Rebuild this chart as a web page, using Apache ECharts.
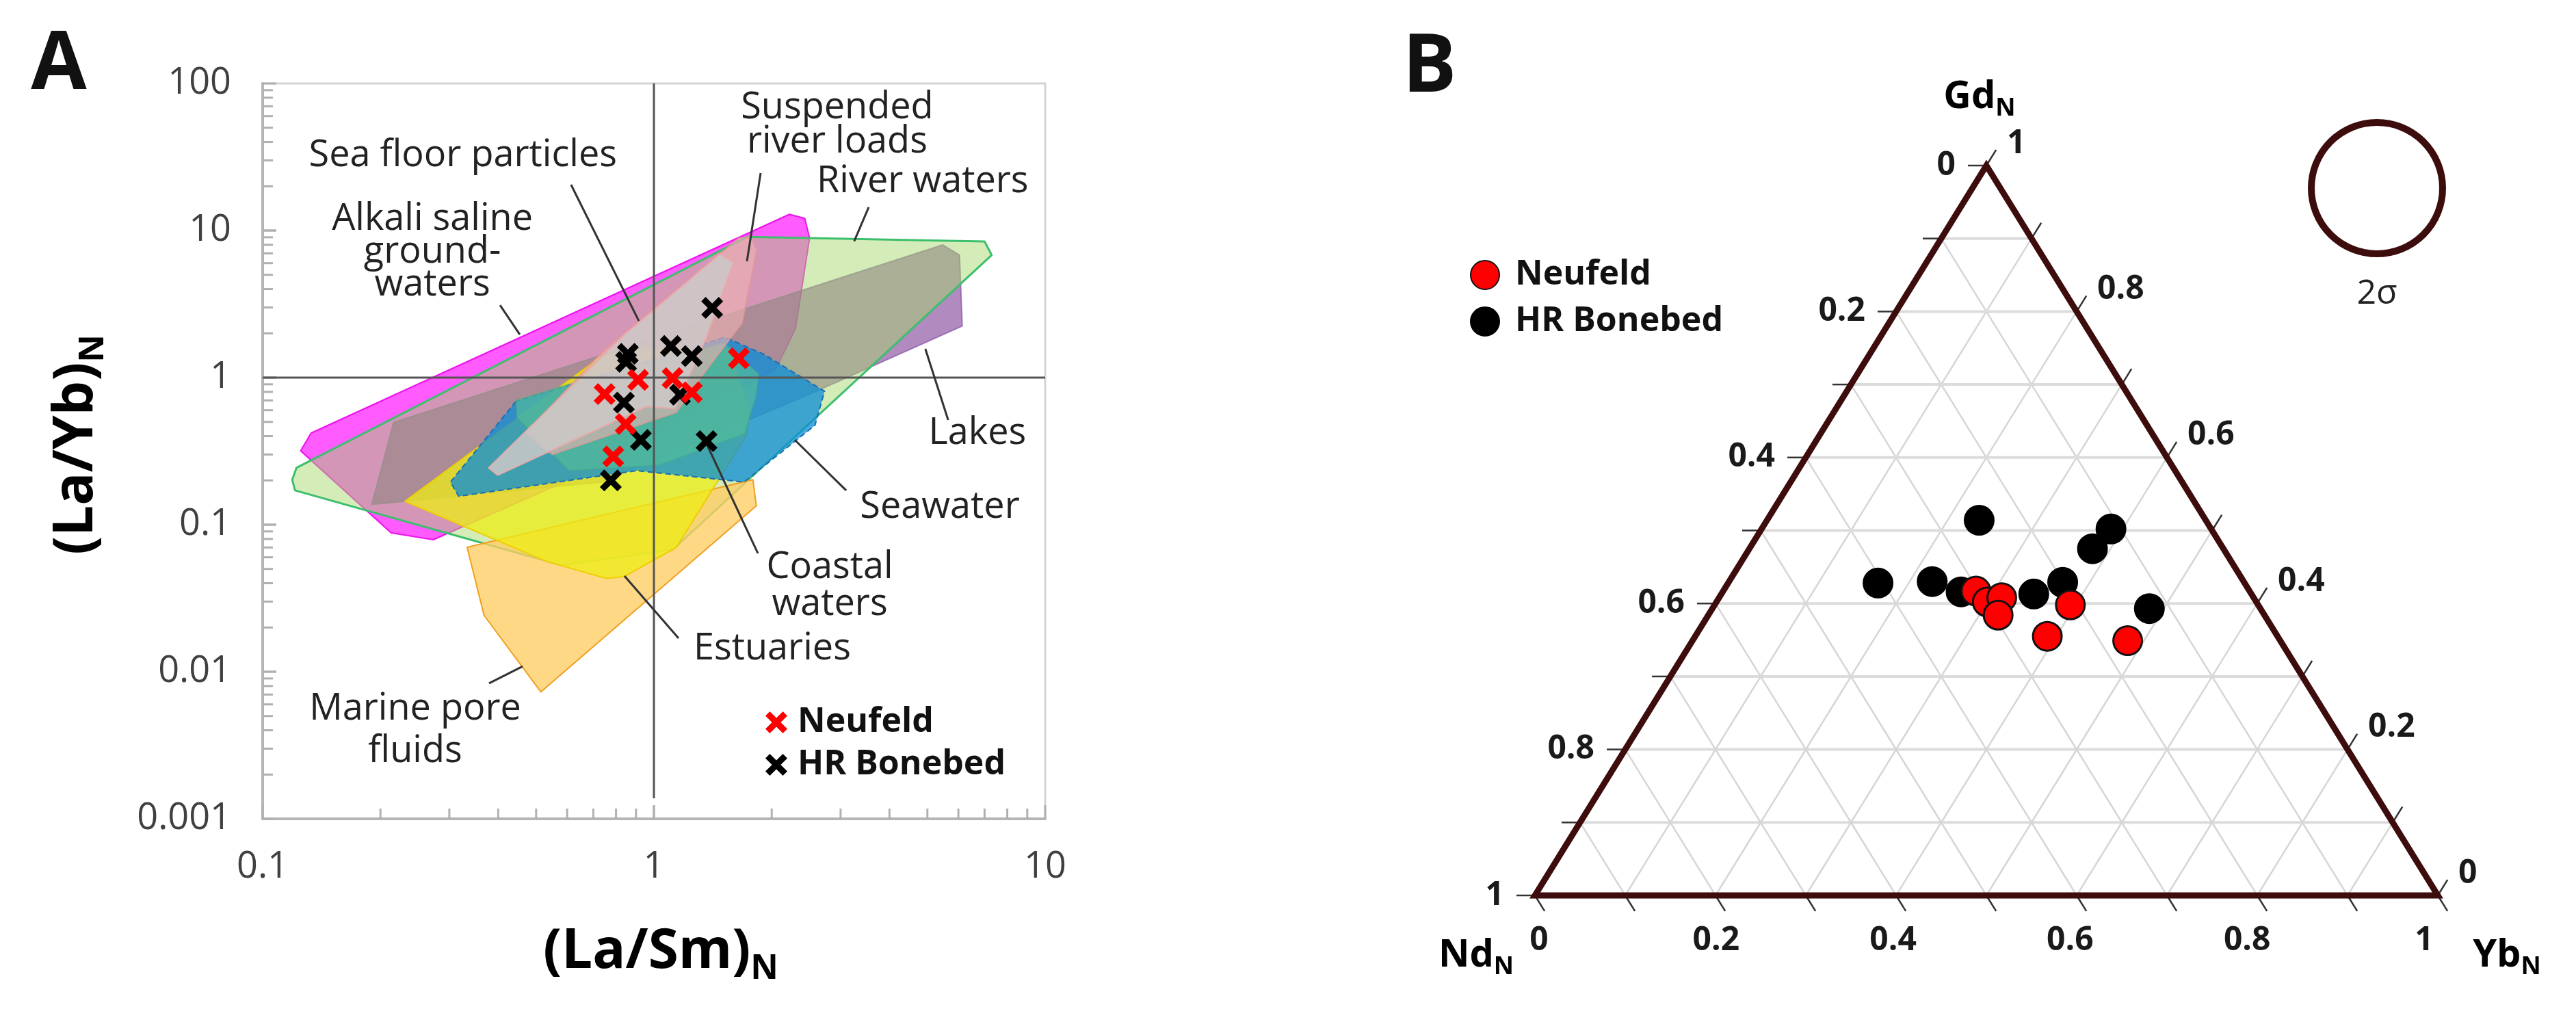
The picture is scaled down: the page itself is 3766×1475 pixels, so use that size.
<!DOCTYPE html>
<html><head><meta charset="utf-8">
<script src="https://cdn.jsdelivr.net/npm/echarts@6/dist/echarts.min.js"></script>
<style>html,body{margin:0;padding:0;background:#fff}#c{width:3766px;height:1475px}</style>
</head><body><div id="c"></div>
<script>
// ================= Panel A data =================
const xTickLabels = ['0.1', '1', '10'];
const yTickLabels = ['0.001', '0.01', '0.1', '1', '10', '100'];
// (La/Sm)N, (La/Yb)N
const neufeldA = [[0.748,0.773],[0.911,0.965],[1.116,0.991],[1.25,0.794],[1.648,1.352],[0.847,0.483],[0.787,0.291]];
const bonebedA = [[1.409,2.98],[1.105,1.64],[1.25,1.40],[0.858,1.45],[0.849,1.28],[0.838,0.676],[0.926,0.377],[0.776,0.200],[1.363,0.370],[1.166,0.766]];
// Field outlines (La/Sm)N, (La/Yb)N
const alkaliSaline = [[0.125,0.318],[0.133,0.42],[2.22,12.9],[2.43,12.1],[2.5,8.9],[2.3,2.15],[2.05,1.15],[0.74,0.255],[0.273,0.079],[0.213,0.088]];
const riverWaters = [[0.119,0.202],[0.122,0.2435],[1.73,9.05],[7.0,8.42],[7.3,6.81],[1.12,0.068],[0.58,0.053],[0.121,0.171]];
const lakes = [[0.19,0.137],[0.216,0.496],[5.47,7.99],[6.04,6.81],[6.14,2.24],[2.58,0.80],[0.74,0.195]];
const marinePore = [[0.333,0.0703],[0.368,0.0242],[0.514,0.0073],[1.827,0.1344],[1.791,0.2022]];
const estuaries = [[0.231,0.1443],[0.746,1.439],[1.0,1.6],[1.55,1.55],[1.75,0.6],[1.732,0.415],[1.139,0.0697],[0.838,0.0443],[0.756,0.0431],[0.531,0.0563]];
const coastalWaters = [[0.444,0.701],[0.447,0.537],[0.607,0.233],[1.034,0.2547],[1.703,0.415],[1.821,0.739],[1.851,1.055],[1.516,1.719],[0.741,1.055]];
const seawater = [[0.444,0.689],[0.302,0.195],[0.317,0.156],[0.905,0.233],[1.70,0.195],[2.58,0.474],[2.73,0.808],[1.91,1.44],[1.52,1.88]];
const suspendedLoads = [[0.47,0.42],[0.74,1.5],[1.65,8.9],[1.77,9.1],[1.83,7.4],[1.68,2.35],[1.37,1.15],[1.14,0.58],[0.55,0.3]];
const seaFloor = [[0.378,0.2435],[0.399,0.217],[0.958,0.636],[1.131,0.614],[1.358,1.845],[1.599,6.07],[1.476,6.93],[0.908,2.325],[0.847,2.0]];

// ================= Panel B data =================
// [NdN, GdN, YbN]
const neufeldB = [[0.303,0.417,0.280],[0.298,0.402,0.300],[0.279,0.408,0.313],[0.295,0.384,0.321],[0.208,0.398,0.394],[0.255,0.355,0.390],[0.169,0.349,0.482]];
const bonebedB = [[0.251,0.514,0.235],[0.111,0.502,0.387],[0.145,0.475,0.380],[0.406,0.428,0.166],[0.345,0.430,0.225],[0.320,0.416,0.264],[0.241,0.413,0.346],[0.201,0.429,0.370],[0.123,0.393,0.484]];
const ternaryTickLabels = ['0', '0.2', '0.4', '0.6', '0.8', '1'];

// ================= layout / style =================
const FONT = '"Open Sans", "Liberation Sans", sans-serif';
const X_PATH = 'path://M0,2L2,0L5,3L8,0L10,2L7,5L10,8L8,10L5,7L2,10L0,8L3,5Z';
const BROWN = '#3d0c0c';

const regions = [
  {pts: alkaliSaline, fill: 'rgba(255,50,255,0.80)', stroke: 'rgba(235,0,235,0.9)', w: 2},
  {pts: lakes, fill: 'rgba(125,60,150,0.60)', stroke: 'rgba(120,70,160,0.6)', w: 2},
  {pts: riverWaters, fill: 'rgba(165,215,105,0.48)', stroke: '#3cbf6c', w: 3},
  {pts: marinePore, fill: 'rgba(255,205,100,0.78)', stroke: '#f0a020', w: 2},
  {pts: estuaries, fill: 'rgba(238,238,20,0.75)', stroke: 'rgba(240,205,0,1)', w: 2},
  {pts: seawater, fill: 'rgba(10,140,215,0.75)', stroke: '#1a6fb0', w: 2, dash: [8, 5]},
  {pts: coastalWaters, fill: 'rgba(85,192,150,0.62)', stroke: 'rgba(70,170,140,0.5)', w: 2},
  {pts: suspendedLoads, fill: 'rgba(238,178,178,0.62)', stroke: 'rgba(230,150,150,0.8)', w: 2},
  {pts: seaFloor, fill: 'rgba(205,200,200,0.85)', stroke: 'rgba(232,170,170,1)', w: 2}
];

const annotations = [
  {text: 'Sea floor particles', at: [0.325, 32.1], line: [[0.614, 20.5], [0.915, 2.43]]},
  {text: 'Suspended\nriver loads', at: [2.94, 52.0], lh: 50, line: [[1.874, 24.6], [1.729, 6.18]]},
  {text: 'River waters', at: [4.86, 21.5], line: [[3.54, 14.4], [3.25, 8.46]]},
  {text: 'Alkali saline\nground-\nwaters', at: [0.2715, 7.10], lh: 48, line: [[0.4043, 3.11], [0.4543, 1.96]]},
  {text: 'Lakes', at: [6.71, 0.416], line: [[5.65, 0.515], [4.94, 1.568]]},
  {text: 'Seawater', at: [5.38, 0.1307], line: [[3.10, 0.171], [2.29, 0.3774]]},
  {text: 'Coastal\nwaters', at: [2.814, 0.0385], lh: 54, line: [[1.844, 0.0638], [1.369, 0.3464]]},
  {text: 'Estuaries', at: [2.006, 0.01424], line: [[1.156, 0.0169], [0.841, 0.0448]]},
  {text: 'Marine pore\nfluids', at: [0.2454, 0.00398], lh: 62, line: [[0.379, 0.00834], [0.4617, 0.01089]]}
];

const xMin = parseFloat(xTickLabels[0]), xMax = parseFloat(xTickLabels[xTickLabels.length - 1]);
const yMin = parseFloat(yTickLabels[0]), yMax = parseFloat(yTickLabels[yTickLabels.length - 1]);

function tern(p) { // [Nd, Gd, Yb] -> cartesian in unit triangle
  const s = p[0] + p[1] + p[2];
  const gd = p[1] / s, yb = p[2] / s;
  return [yb + gd / 2, gd];
}

const chart = echarts.init(document.getElementById('c'), null, {renderer: 'canvas', width: 3766, height: 1475});

const option = {
  animation: false,
  backgroundColor: '#ffffff',
  grid: [
    {left: 384, top: 122, width: 1144, height: 1075, show: true, borderColor: '#d4d4d4', borderWidth: 3, containLabel: false},
    {left: 2244, top: 242, width: 1320, height: 1067, show: false}
  ],
  xAxis: [
    {type: 'log', logBase: 10, min: xMin, max: xMax, splitNumber: 2, gridIndex: 0,
     axisLine: {show: true, onZero: false, lineStyle: {color: '#b5b5b5', width: 4}},
     axisTick: {show: false}, splitLine: {show: false},
     axisLabel: {fontSize: 54, color: '#404040', fontFamily: FONT, margin: 44,
       formatter: v => xTickLabels[Math.round(Math.log10(v / xMin))] || ''}},
    {type: 'value', min: 0, max: 1, gridIndex: 1, show: false}
  ],
  yAxis: [
    {type: 'log', logBase: 10, min: yMin, max: yMax, splitNumber: 5, gridIndex: 0,
     axisLine: {show: true, onZero: false, lineStyle: {color: '#b5b5b5', width: 4}},
     axisTick: {show: false}, splitLine: {show: false},
     axisLabel: {fontSize: 54, color: '#404040', fontFamily: FONT, margin: 46,
       formatter: v => yTickLabels[Math.round(Math.log10(v / yMin))] || ''}},
    {type: 'value', min: 0, max: 1, gridIndex: 1, show: false}
  ],
  legend: [
    {data: [{name: 'Neufeld', icon: X_PATH}, {name: 'HR Bonebed', icon: X_PATH}],
     orient: 'vertical', left: 1114, top: 1026, itemWidth: 32, itemHeight: 32, itemGap: 12,
     selectedMode: false,
     textStyle: {fontSize: 50, fontWeight: 'bold', fontFamily: FONT, color: '#111', padding: [0, 0, 0, 10]}},
    {data: [{name: 'Neufeld ', icon: 'circle'}, {name: 'HR Bonebed ', icon: 'circle'}],
     orient: 'vertical', left: 2144, top: 372, itemWidth: 42, itemHeight: 42, itemGap: 18,
     selectedMode: false,
     textStyle: {fontSize: 50, fontWeight: 'bold', fontFamily: FONT, color: '#111', padding: [0, 0, 0, 18]}}
  ],
  graphic: [
    {type: 'text', x: 86, y: 96, style: {text: 'A', font: 'bold 118px ' + FONT, fill: '#111', align: 'center', verticalAlign: 'middle'}},
    {type: 'text', x: 2090, y: 100, style: {text: 'B', font: 'bold 118px ' + FONT, fill: '#111', align: 'center', verticalAlign: 'middle'}},
    {type: 'text', x: 966, y: 1392, style: {text: '{a|(La/Sm)}{s|N}', align: 'center', verticalAlign: 'middle',
      rich: {a: {fontSize: 80, fontWeight: 'bold', fontFamily: FONT, color: '#111', lineHeight: 100},
             s: {fontSize: 50, fontWeight: 'bold', fontFamily: FONT, color: '#111', verticalAlign: 'bottom', lineHeight: 80}}}},
    {type: 'text', x: 112, y: 650, rotation: Math.PI / 2, style: {text: '{a|(La/Yb)}{s|N}', align: 'center', verticalAlign: 'middle',
      rich: {a: {fontSize: 80, fontWeight: 'bold', fontFamily: FONT, color: '#111', lineHeight: 100},
             s: {fontSize: 50, fontWeight: 'bold', fontFamily: FONT, color: '#111', verticalAlign: 'bottom', lineHeight: 80}}}},
    {type: 'circle', shape: {cx: 3475, cy: 275, r: 96}, style: {fill: 'none', stroke: BROWN, lineWidth: 10}},
    {type: 'text', x: 3475, y: 430, style: {text: '2σ', font: '50px ' + FONT, fill: '#222', align: 'center', verticalAlign: 'middle'}}
  ],
  series: [
    // ---- Panel A fields ----
    {type: 'custom', name: 'fields', xAxisIndex: 0, yAxisIndex: 0, silent: true, clip: true, z: 1,
     data: regions.map((r, i) => [r.pts[0][0], r.pts[0][1], i]),
     renderItem: function (params, api) {
       const r = regions[api.value(2)];
       const pts = r.pts.map(p => api.coord(p));
       return {type: 'polygon', shape: {points: pts},
         style: {fill: r.fill, stroke: r.stroke, lineWidth: r.w, lineDash: r.dash || null, lineJoin: 'round'}};
     }},
    // ---- Panel A frame: minor ticks + reference lines ----
    {type: 'custom', name: 'frameA', xAxisIndex: 0, yAxisIndex: 0, silent: true, z: 3,
     data: [[1, 1]],
     renderItem: function (params, api) {
       const ch = [];
       const tickStyle = {stroke: '#b0b0b0', lineWidth: 3};
       for (let d = xMin; d < xMax * 0.999; d *= 10) {
         for (let k = 1; k <= 10; k++) {
           const v = d * k;
           if (v > xMax * 1.0001) continue;
           const p = api.coord([v, yMin]);
           const len = (k === 1 || k === 10) ? 20 : 15;
           ch.push({type: 'line', shape: {x1: p[0], y1: p[1], x2: p[0], y2: p[1] - len}, style: tickStyle});
         }
       }
       for (let d = yMin; d < yMax * 0.999; d *= 10) {
         for (let k = 1; k <= 10; k++) {
           const v = d * k;
           if (v > yMax * 1.0001) continue;
           const p = api.coord([xMin, v]);
           const len = (k === 1 || k === 10) ? 20 : 15;
           ch.push({type: 'line', shape: {x1: p[0], y1: p[1], x2: p[0] + len, y2: p[1]}, style: tickStyle});
         }
       }
       const a = api.coord([1, yMin]), b = api.coord([1, yMax]);
       ch.push({type: 'line', shape: {x1: a[0], y1: a[1] - 30, x2: b[0], y2: b[1]}, style: {stroke: '#555', lineWidth: 3}});
       const c = api.coord([xMin, 1]), e = api.coord([xMax, 1]);
       ch.push({type: 'line', shape: {x1: c[0], y1: c[1], x2: e[0], y2: e[1]}, style: {stroke: '#555', lineWidth: 3}});
       return {type: 'group', children: ch};
     }},
    // ---- Panel A annotations ----
    {type: 'custom', name: 'labelsA', xAxisIndex: 0, yAxisIndex: 0, silent: true, clip: false, z: 4,
     data: annotations.map((a, i) => [a.at[0], a.at[1], i]),
     renderItem: function (params, api) {
       const a = annotations[api.value(2)];
       const p = api.coord(a.at);
       const l1 = api.coord(a.line[0]), l2 = api.coord(a.line[1]);
       return {type: 'group', children: [
         {type: 'line', shape: {x1: l1[0], y1: l1[1], x2: l2[0], y2: l2[1]}, style: {stroke: '#333', lineWidth: 3}},
         {type: 'text', x: p[0], y: p[1], style: {text: a.text, fill: '#222', font: '54px ' + FONT,
           align: 'center', verticalAlign: 'middle', lineHeight: a.lh || 54}}
       ]};
     }},
    {type: 'scatter', name: 'HR Bonebed', xAxisIndex: 0, yAxisIndex: 0, z: 5, data: bonebedA,
     symbol: X_PATH, symbolSize: 32, itemStyle: {color: '#000', opacity: 1}},
    {type: 'scatter', name: 'Neufeld', xAxisIndex: 0, yAxisIndex: 0, z: 6, data: neufeldA,
     symbol: X_PATH, symbolSize: 32, itemStyle: {color: '#ff0000', opacity: 1}},

    // ---- Panel B ternary frame ----
    {type: 'custom', name: 'ternaryFrame', xAxisIndex: 1, yAxisIndex: 1, silent: true, clip: false, z: 2,
     data: [[0.5, 0.5]],
     renderItem: function (params, api) {
       const P = (nd, gd, yb) => api.coord(tern([nd, gd, yb]));
       const ch = [];
       const gridStyle = {stroke: '#d6d6d6', lineWidth: 2.5};
       for (let k = 1; k <= 9; k++) {
         const t = k / 10;
         let a = P(1 - t, t, 0), b = P(0, t, 1 - t);
         ch.push({type: 'line', shape: {x1: a[0], y1: a[1], x2: b[0], y2: b[1]}, style: {stroke: '#dcdcdc', lineWidth: 4}});
         a = P(1 - t, 0, t); b = P(0, 1 - t, t);
         ch.push({type: 'line', shape: {x1: a[0], y1: a[1], x2: b[0], y2: b[1]}, style: gridStyle});
         a = P(t, 0, 1 - t); b = P(t, 1 - t, 0);
         ch.push({type: 'line', shape: {x1: a[0], y1: a[1], x2: b[0], y2: b[1]}, style: gridStyle});
       }
       const T = P(0, 1, 0), BL = P(1, 0, 0), BR = P(0, 0, 1);
       const norm = v => { const l = Math.hypot(v[0], v[1]); return [v[0] / l, v[1] / l]; };
       const dUp = norm([T[0] - BL[0], T[1] - BL[1]]);
       const dDown = norm([BR[0] - T[0], BR[1] - T[1]]);
       const L = 27, tk = {stroke: '#333', lineWidth: 2.5};
       for (let k = 0; k <= 10; k++) {
         const t = k / 10;
         let p = P(t, 1 - t, 0);
         ch.push({type: 'line', shape: {x1: p[0] - L, y1: p[1], x2: p[0], y2: p[1]}, style: tk});
         p = P(0, t, 1 - t);
         ch.push({type: 'line', shape: {x1: p[0], y1: p[1], x2: p[0] + dUp[0] * L, y2: p[1] + dUp[1] * L}, style: tk});
         p = P(1 - t, 0, t);
         ch.push({type: 'line', shape: {x1: p[0], y1: p[1], x2: p[0] + dDown[0] * L, y2: p[1] + dDown[1] * L}, style: tk});
       }
       ch.push({type: 'polygon', shape: {points: [T, BR, BL]}, style: {fill: 'none', stroke: BROWN, lineWidth: 9, lineJoin: 'miter'}});
       const lf = 'bold 48px ' + FONT;
       ternaryTickLabels.forEach(lbl => {
         const t = parseFloat(lbl);
         let p = P(t, 1 - t, 0);
         ch.push({type: 'text', x: p[0] - 45, y: p[1], style: {text: lbl, font: lf, fill: '#1a1a1a', align: 'right', verticalAlign: 'middle'}});
         p = P(0, t, 1 - t);
         ch.push({type: 'text', x: p[0] + 30, y: p[1] - 32, style: {text: lbl, font: lf, fill: '#1a1a1a', align: 'left', verticalAlign: 'middle'}});
         p = P(1 - t, 0, t);
         ch.push({type: 'text', x: p[0] + 6 - 26 * t, y: p[1] + 66, style: {text: lbl, font: lf, fill: '#1a1a1a', align: 'center', verticalAlign: 'middle'}});
       });
       const rich = {b: {fontSize: 56, fontWeight: 'bold', fontFamily: FONT, color: '#111', lineHeight: 70},
                     s: {fontSize: 36, fontWeight: 'bold', fontFamily: FONT, color: '#111', verticalAlign: 'bottom', lineHeight: 56}};
       ch.push({type: 'text', x: T[0] - 10, y: T[1] - 100, style: {text: '{b|Gd}{s|N}', rich, align: 'center', verticalAlign: 'middle'}});
       ch.push({type: 'text', x: BL[0] - 86, y: BL[1] + 88, style: {text: '{b|Nd}{s|N}', rich, align: 'center', verticalAlign: 'middle'}});
       ch.push({type: 'text', x: BR[0] + 101, y: BR[1] + 88, style: {text: '{b|Yb}{s|N}', rich, align: 'center', verticalAlign: 'middle'}});
       return {type: 'group', children: ch};
     }},
    {type: 'scatter', name: 'HR Bonebed ', xAxisIndex: 1, yAxisIndex: 1, z: 5, data: bonebedB.map(tern),
     symbol: 'circle', symbolSize: 42, itemStyle: {color: '#000', borderColor: '#000', borderWidth: 3, opacity: 1}},
    {type: 'scatter', name: 'Neufeld ', xAxisIndex: 1, yAxisIndex: 1, z: 6, data: neufeldB.map(tern),
     symbol: 'circle', symbolSize: 42, itemStyle: {color: '#ff0000', borderColor: '#111', borderWidth: 3, opacity: 1}}
  ]
};
chart.setOption(option);
</script></body></html>
